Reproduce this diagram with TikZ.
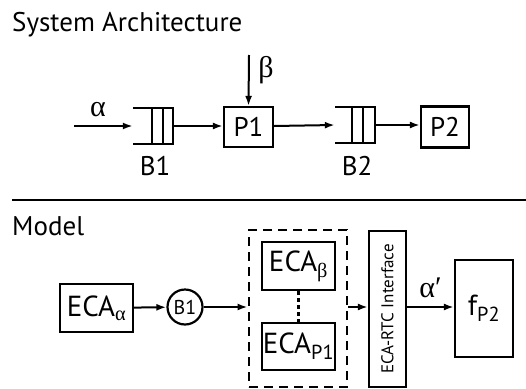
\documentclass[tikz,border=0pt]{standalone}
\usepackage{fontspec}
\setmainfont{PT Sans}
\newfontfamily\greekfont{Liberation Serif}
\usetikzlibrary{calc, arrows.meta}

\begin{document}
\begin{tikzpicture}[x=1pt, y=-1pt,
  box/.style={draw, line width=2.2pt, inner sep=0pt, font=\fontsize{27}{30}\selectfont},
  bigbox/.style={box, font=\fontsize{29}{32}\selectfont},
  buffer/.style={minimum width=40pt, minimum height=36pt, inner sep=0pt},
  dashbox/.style={draw, line width=2.8pt, dash pattern=on 9pt off 6pt, inner sep=0pt},
  label/.style={font=\fontsize{27}{30}\selectfont, inner sep=0pt},
  greek/.style={font=\fontsize{30}{32}\greekfont, inner sep=0pt},
  title/.style={anchor=base west, inner sep=0pt, font=\fontsize{27}{30}\selectfont},
  arrow/.style={-{Latex[length=10pt, width=7pt]}, line width=2pt}
]
\useasboundingbox (0,0) rectangle (526,388);

% system architecture
\node[title] (sys) at (12,31) {System Architecture};
\coordinate (ain) at (74,126);
\coordinate (bin) at (249,55);
\node[buffer] (b1) at (153,126) {};
\node[box, minimum width=49pt, minimum height=40pt] (p1) at (248.5,127) {P1};
\node[buffer] (b2) at (355,125) {};
\node[box, minimum width=48pt, minimum height=41pt] (p2) at (445,127) {P2};
\node[label] (b1lbl) at (155,166) {B1};
\node[label] (b2lbl) at (357,166) {B2};
\node[greek] (alpha) at (98,110) {α};
\node[greek] (beta) at (266,70) {β};

\foreach \b/\i/\j in {b1/19/30, b2/17/28} {
  \draw[line width=2.2pt] (\b.north west) -- (\b.north east) -- (\b.south east) -- (\b.south west);
  \draw[line width=2.2pt] ($(\b.north west)+(\i,0)$) -- ($(\b.south west)+(\i,0)$);
  \draw[line width=2.2pt] ($(\b.north west)+(\j,0)$) -- ($(\b.south west)+(\j,0)$);
}

\draw[arrow] (ain) -- (b1.west);
\draw[arrow] (b1.east) -- (b1.east -| p1.west);
\draw[arrow] (bin) -- (p1.north);
\draw[arrow] (p1.east |- b1.east) -- (b2.west);
\draw[arrow] (b2.east) -- (b2.east -| p2.west);

% separator
\coordinate (sepl) at (12,200);
\coordinate (sepr) at (526,200);
\draw[line width=2.2pt] (sepl) -- (sepr);

% model
\node[title] (model) at (12,235) {Model};
\node[bigbox, minimum width=73pt, minimum height=48pt] (ecaa) at (96.5,308) {ECA\textsubscript{\greekfont α}};
\node[draw, circle, line width=2.2pt, inner sep=0pt, minimum size=35pt, font=\fontsize{20}{24}\selectfont] (buf) at (185,307) {B1};
\node[dashbox, minimum width=98pt, minimum height=157pt] (grp) at (298,308.5) {};
\node[bigbox, minimum width=73pt, minimum height=48pt] (ecab) at (298.5,266) {ECA\textsubscript{\greekfont β}};
\node[bigbox, minimum width=73pt, minimum height=47pt] (ecap) at (298.5,346.5) {ECA\textsubscript{P1}};
\node[box, minimum width=37pt, minimum height=156pt] (rtc) at (387.5,309) {};
\node[rotate=90, inner sep=0pt, font=\fontsize{17}{20}\selectfont] (rtclbl) at (rtc.center) {ECA-RTC Interface};
\node[bigbox, minimum width=58pt, minimum height=97pt] (fp2) at (484,308.5) {f\textsubscript{P2}};

\draw[line width=2.2pt, dash pattern=on 4pt off 3pt] (ecab) -- (ecap);
\draw[arrow] (ecaa) -- (buf);
\draw[arrow] (buf) -- (buf -| grp.west);
\draw[arrow] (buf -| grp.east) -- (buf -| rtc.west);
\draw[arrow] (buf -| rtc.east) -- node[greek, above=8pt] {α′} (buf -| fp2.west);
\end{tikzpicture}
\end{document}
